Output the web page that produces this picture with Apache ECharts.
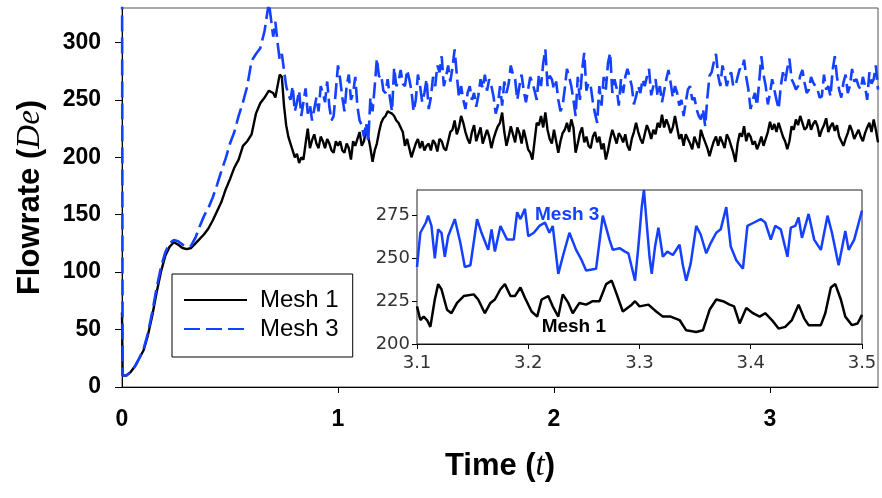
<!DOCTYPE html>
<html><head><meta charset="utf-8">
<script src="https://cdn.jsdelivr.net/npm/echarts@6/dist/echarts.min.js"></script>
<style>html,body{margin:0;padding:0;background:#fff}#c{width:882px;height:498px}</style>
</head><body><div id="c"></div>
<script>
// ---- main chart data (time in t, flowrate in De) ----
const startTime = [0, 0.003];
const gridStep = 0.02;   // read-off grid: t = 0.02, 0.04, ... 3.50
const midStart = 0.71;   // extra read-off points between grid samples: t = 0.71, 0.73, ... 3.49
const mesh1Start = [65, 10];
const mesh3Start = [400, 10];
const mesh1Values = [
 10,13,18,25,32,45,62,82,100,114,
 122,126,124,121,120,121,125,129,133,138,
 145,153,161,172,181,191,198,210,214,220,
 238,247,252,258,256,262,270,228,212,200,
 195,198,225,215,212,218,208,212,204,210,
 206,212,198,210,222,214,218,196,212,230,
 236,239,236,230,222,216,200,212,208,206,
 212,215,205,214,206,222,232,226,230,216,
 222,214,226,218,218,216,227,239,210,227,
 213,221,224,207,198,230,236,239,216,224,
 204,221,230,233,204,221,213,210,218,213,
 207,198,216,218,221,213,210,216,230,216,
 220,223,224,230,237,233,221,236,216,210,
 216,207,213,224,213,201,214,210,213,220,
 210,196,221,227,221,211,207,218,216,231,
 229,230,218,207,227,233,236,224,233,229,
 227,224,234,227,223,218,210,221,223,220,
 218,221,230,233,213
];
const mesh1Mid = [
 252,272,245,218,206,203,200,212,208,220,
 208,214,216,206,214,214,204,208,214,216,
 210,224,208,206,222,234,240,238,232,226,
 210,208,206,216,214,210,206,212,216,208,
 214,224,220,236,222,212,228,220,212,224,
 208,222,230,222,218,220,226,212,216,204,
 214,228,226,224,212,214,214,224,222,226,
 212,226,218,208,222,218,212,206,224,212,
 218,220,206,222,222,212,228,216,220,226,
 226,228,226,226,220,220,212,218,208,218,
 208,208,218,218,208,216,204,212,218,214,
 218,214,212,210,222,224,222,224,214,214,
 224,228,230,226,224,232,218,228,222,230,
 228,214,216,228,216,224,214,226,222,224
];
const mesh3Values = [
 10,13,18,25,33,47,65,86,104,117,
 125,128,127,124,122,123,130,140,149,156,
 165,176,188,199,212,222,236,248,262,284,
 290,295,310,335,305,300,290,262,250,240,
 258,248,238,232,252,262,248,244,236,280,
 252,262,250,270,232,218,214,240,286,272,
 256,252,278,266,264,276,258,250,262,256,
 242,270,280,288,270,266,294,252,250,256,
 250,244,268,272,268,253,245,245,256,280,
 268,262,258,259,265,250,262,294,271,259,
 250,245,277,262,236,250,291,265,248,230,
 245,259,291,268,245,256,277,262,253,256,
 262,277,262,253,248,268,265,262,245,236,
 259,250,242,233,227,271,283,271,280,262,
 274,262,277,285,259,250,245,288,262,256,
 259,242,274,277,268,259,271,265,259,265,
 259,253,259,253,288,259,265,256,277,268,
 259,262,274,268,259
];
const mesh3Mid = [
 318,285,276,255,262,248,236,260,246,242,
 240,256,266,232,258,268,240,272,256,244,
 228,230,252,262,270,258,268,240,262,276,
 262,268,240,272,248,268,252,262,274,262,
 280,278,272,262,242,262,256,254,260,258,
 262,238,262,266,264,272,250,272,248,270,
 258,272,282,262,268,266,240,260,270,250,
 270,276,258,262,238,262,270,282,256,260,
 268,270,270,246,262,268,270,254,268,262,
 258,276,252,256,250,248,262,252,236,242,
 252,274,290,262,272,270,262,270,276,270,
 242,256,266,272,246,268,250,262,266,286,
 264,262,276,256,270,262,252,272,262,276,
 270,252,272,262,266,262,270,250,264,280
];
// ---- inset data (3.1 <= t <= 3.5) ----
const inset1Time = [3.100,3.103,3.106,3.109,3.112,3.116,3.119,3.122,3.127,3.131,3.136,3.142,3.151,3.155,3.161,3.166,3.170,3.175,3.179,3.184,3.188,3.193,3.197,3.203,3.208,3.212,3.218,3.222,3.227,3.231,3.236,3.240,3.246,3.252,3.258,3.264,3.270,3.275,3.279,3.285,3.293,3.296,3.300,3.308,3.315,3.321,3.328,3.336,3.342,3.351,3.357,3.363,3.369,3.375,3.381,3.385,3.390,3.396,3.402,3.408,3.413,3.419,3.425,3.431,3.437,3.443,3.448,3.452,3.458,3.463,3.467,3.472,3.476,3.481,3.485,3.491,3.496,3.500];
const inset1Values = [222,214,216,214,210,226,235,232,220,218,224,228,229,226,218,224,226,232,235,228,228,233,227,219,216,226,228,222,216,229,224,218,224,223,225,225,235,237,230,219,223,225,222,223,219,216,216,214,208,207,208,220,226,225,223,222,212,221,218,216,218,214,209,210,214,223,215,211,211,211,218,233,235,226,216,211,212,217];
const inset3Time = [3.100,3.103,3.108,3.110,3.113,3.116,3.119,3.122,3.125,3.128,3.134,3.139,3.143,3.148,3.154,3.158,3.164,3.167,3.170,3.175,3.181,3.187,3.190,3.193,3.197,3.200,3.205,3.210,3.215,3.219,3.222,3.227,3.231,3.237,3.243,3.248,3.252,3.261,3.267,3.273,3.276,3.282,3.287,3.290,3.293,3.296,3.299,3.302,3.304,3.306,3.309,3.311,3.314,3.317,3.321,3.325,3.330,3.336,3.339,3.342,3.346,3.351,3.355,3.360,3.364,3.369,3.373,3.378,3.382,3.387,3.393,3.397,3.403,3.409,3.413,3.418,3.422,3.427,3.433,3.436,3.440,3.443,3.446,3.452,3.457,3.463,3.469,3.473,3.479,3.485,3.488,3.493,3.500];
const inset3Values = [245,265,271,275,269,250,267,265,251,263,273,259,245,246,273,265,255,267,254,269,261,261,277,273,279,263,265,269,271,265,269,241,251,265,255,249,243,244,275,261,255,256,254,253,245,237,257,280,290,274,251,241,257,268,251,254,252,258,246,237,247,269,264,253,259,265,267,280,257,249,244,269,271,273,271,261,269,267,251,268,269,274,262,276,261,255,275,265,246,266,255,261,278];
// ---- tick labels ----
const mainXTicks = [0,1,2,3];
const mainYTicks = [0,50,100,150,200,250,300];
const insetXTicks = [3.1,3.2,3.3,3.4,3.5];
const insetYTicks = [200,225,250,275];
const seriesNames = ['Mesh 1','Mesh 3'];

function buildMain(startVals, gridVals, midVals) {
  const pts = startTime.map((t, i) => [t, startVals[i]]);
  gridVals.forEach((v, i) => pts.push([+((i + 1) * gridStep).toFixed(3), v]));
  midVals.forEach((v, i) => pts.push([+(midStart + i * gridStep).toFixed(3), v]));
  return pts.sort((a, b) => a[0] - b[0] || 0);
}
const pairs = (ts, vs) => ts.map((t, i) => [t, vs[i]]);
const mesh1Data = buildMain(mesh1Start, mesh1Values, mesh1Mid);
const mesh3Data = buildMain(mesh3Start, mesh3Values, mesh3Mid);

const BLUE = '#1440ff';
const SANS = '"Liberation Sans", Arial, sans-serif';
const chart = echarts.init(document.getElementById('c'), null, {renderer: 'canvas'});
const titleRich = { i: { fontFamily: '"Liberation Serif", "Times New Roman", serif', fontStyle: 'italic', fontWeight: 'normal', fontSize: 33, color: '#000' } };
chart.setOption({
  animation: false,
  backgroundColor: '#fff',
  grid: [
    { left: 122, top: 8, width: 756, height: 379, show: true, borderColor: '#555', borderWidth: 1, backgroundColor: 'transparent' },
    { left: 417, top: 190, width: 445, height: 154, show: true, borderColor: '#222', borderWidth: 1, backgroundColor: '#fff', z: 5 }
  ],
  legend: {
    data: seriesNames, orient: 'vertical', left: 172, top: 274,
    padding: [13, 14, 15, 11], itemWidth: 63, itemHeight: 14, itemGap: 3,
    borderColor: '#000', borderWidth: 1, backgroundColor: '#fff', borderRadius: 0,
    itemStyle: { opacity: 0 },
    textStyle: { fontSize: 24, fontFamily: SANS, color: '#000', lineHeight: 26, padding: [0, 0, 0, 8] },
    selectedMode: false, z: 6
  },
  xAxis: [
    { type: 'value', gridIndex: 0, min: 0, max: 3.5,
      name: 'Time ({i|t})', nameLocation: 'middle', nameGap: 63,
      nameTextStyle: { fontSize: 31, fontWeight: 'bold', fontFamily: SANS, color: '#000', rich: titleRich },
      axisLine: { show: true, onZero: false, lineStyle: { color: '#000', width: 1 } },
      axisTick: { show: true, length: 6, inside: false, customValues: [1, 2, 3], lineStyle: { color: '#000' } },
      axisLabel: { customValues: mainXTicks, fontSize: 23, fontWeight: 'bold', fontFamily: SANS, color: '#000', margin: 21 },
      splitLine: { show: false } },
    { type: 'value', gridIndex: 1, min: 3.1, max: 3.5,
      axisLine: { show: true, onZero: false, lineStyle: { color: '#000', width: 1 } },
      axisTick: { show: true, length: 5, customValues: insetXTicks, lineStyle: { color: '#000' } },
      axisLabel: { customValues: insetXTicks, formatter: v => v.toFixed(1), fontSize: 18, fontFamily: '"DejaVu Sans", sans-serif', color: '#333', margin: 10 },
      splitLine: { show: false } }
  ],
  yAxis: [
    { type: 'value', gridIndex: 0, min: 0, max: 330,
      name: 'Flowrate ({i|De})', nameLocation: 'middle', nameGap: 75,
      nameTextStyle: { fontSize: 31, fontWeight: 'bold', fontFamily: SANS, color: '#000', rich: titleRich },
      axisLine: { show: true, onZero: false, lineStyle: { color: '#000', width: 1 } },
      axisTick: { show: true, length: 7, customValues: mainYTicks, lineStyle: { color: '#000' } },
      axisLabel: { customValues: mainYTicks, fontSize: 23, fontWeight: 'bold', fontFamily: SANS, color: '#000', margin: 21 },
      splitLine: { show: false } },
    { type: 'value', gridIndex: 1, min: 200, max: 290,
      axisLine: { show: true, onZero: false, lineStyle: { color: '#000', width: 1 } },
      axisTick: { show: true, length: 5, customValues: insetYTicks, lineStyle: { color: '#000' } },
      axisLabel: { customValues: insetYTicks, fontSize: 18, fontFamily: '"DejaVu Sans", sans-serif', color: '#333', margin: 7 },
      splitLine: { show: false } }
  ],
  series: [
    { name: seriesNames[0], type: 'line', xAxisIndex: 0, yAxisIndex: 0, data: mesh1Data,
      symbol: 'none', showSymbol: false, clip: true,
      lineStyle: { color: '#000', width: 2.4 }, itemStyle: { color: '#000' } },
    { name: seriesNames[1], type: 'line', xAxisIndex: 0, yAxisIndex: 0, data: mesh3Data,
      symbol: 'none', showSymbol: false, clip: true,
      lineStyle: { color: BLUE, width: 2.6, type: [16, 6] }, itemStyle: { color: BLUE } },
    { name: seriesNames[0] + ' (detail)', type: 'line', xAxisIndex: 1, yAxisIndex: 1, data: pairs(inset1Time, inset1Values),
      symbol: 'none', showSymbol: false, clip: true, z: 6,
      lineStyle: { color: '#000', width: 2.5 } },
    { name: seriesNames[1] + ' (detail)', type: 'line', xAxisIndex: 1, yAxisIndex: 1, data: pairs(inset3Time, inset3Values),
      symbol: 'none', showSymbol: false, clip: true, z: 6,
      lineStyle: { color: BLUE, width: 2.5 } }
  ]
});
// inset annotations anchored to data coordinates
const p3 = chart.convertToPixel({ gridIndex: 1 }, [3.235, 275.5]);
const p1 = chart.convertToPixel({ gridIndex: 1 }, [3.241, 210]);
chart.setOption({ graphic: [
  { type: 'text', x: p3[0], y: p3[1], z: 20, style: { text: seriesNames[1], fill: BLUE, font: 'bold 19px ' + SANS, align: 'center', verticalAlign: 'middle' } },
  { type: 'text', x: p1[0], y: p1[1], z: 20, style: { text: seriesNames[0], fill: '#000', font: 'bold 19px ' + SANS, align: 'center', verticalAlign: 'middle' } }
]});
</script></body></html>
